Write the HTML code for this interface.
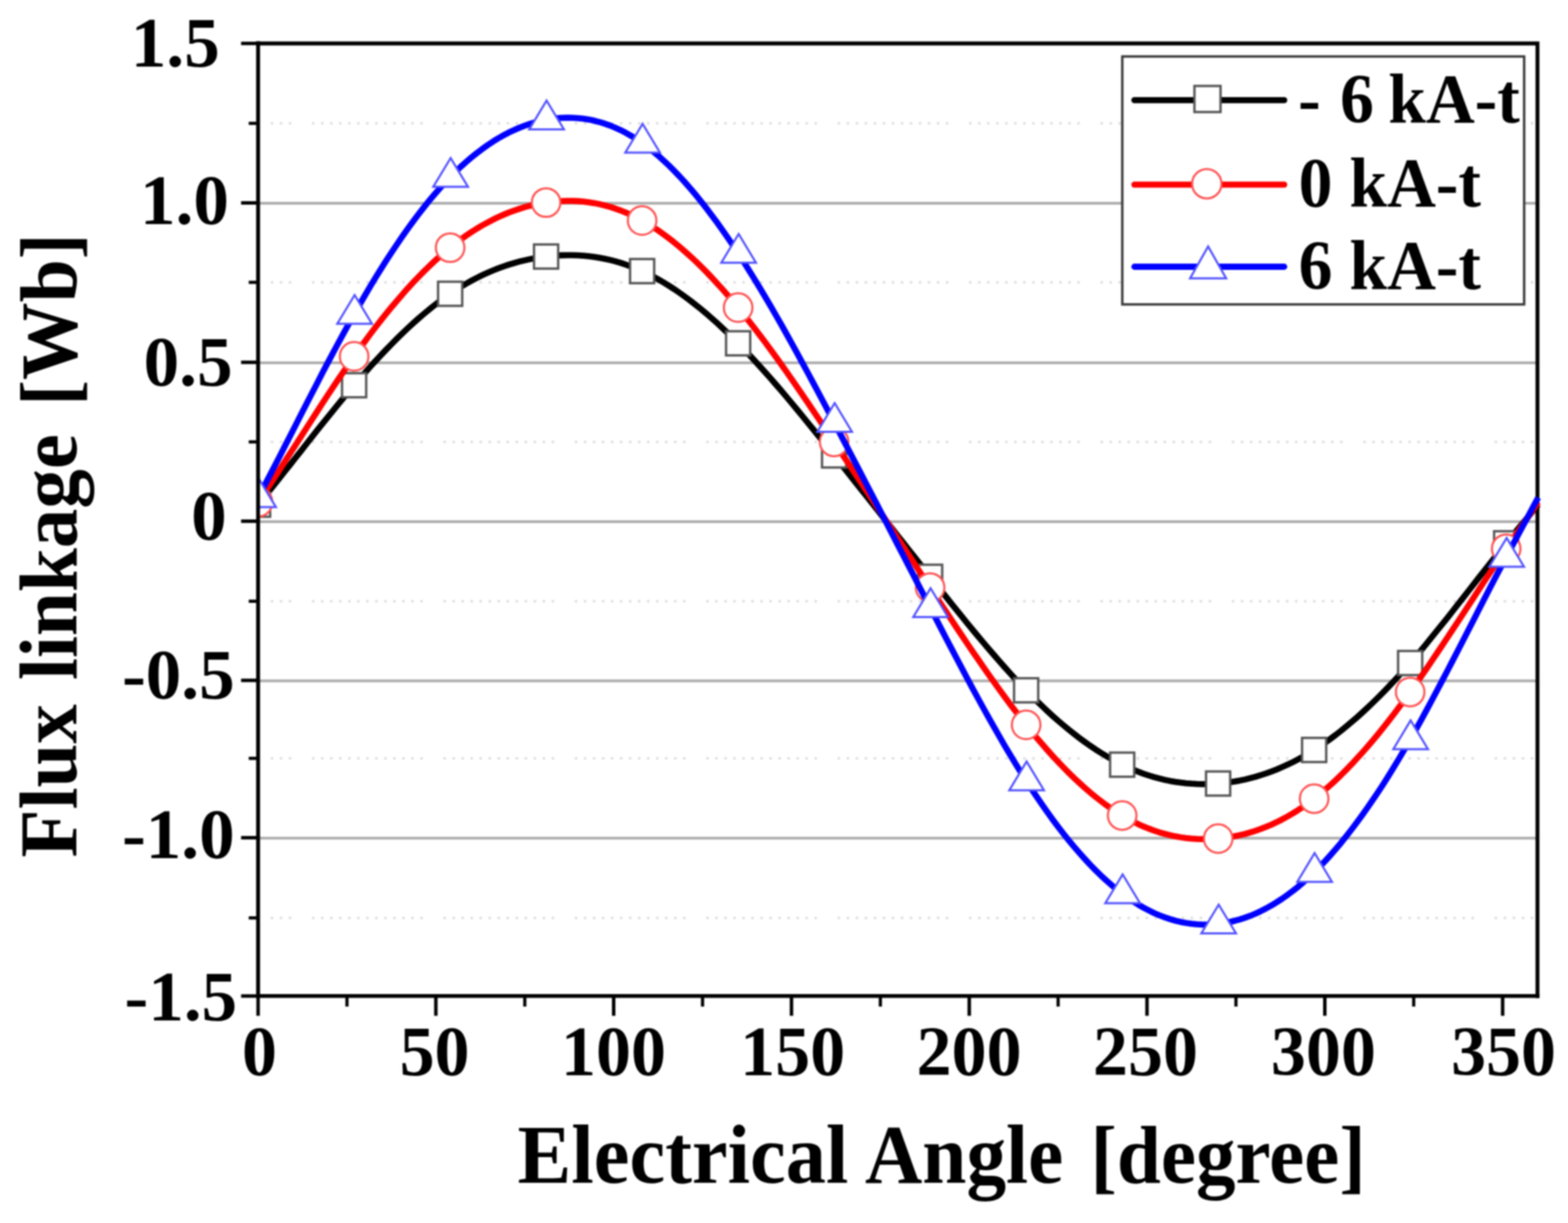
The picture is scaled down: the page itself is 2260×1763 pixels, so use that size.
<!DOCTYPE html>
<html lang="en"><head><meta charset="utf-8">
<style>
html,body{margin:0;padding:0;background:#fff;}
body{width:2260px;height:1763px;overflow:hidden;}
svg{display:block;filter:blur(1px);}
text{font-family:"Liberation Serif",serif;font-weight:bold;fill:#000;}
.tick{font-size:102.5px;}
.xtitle{font-size:120.5px;}
.ytitle{font-size:119.0px;}
.leg{font-size:102.4px;}
</style></head><body>
<svg width="2260" height="1763" viewBox="0 0 2260 1763">
<rect width="2260" height="1763" fill="#fff"/>
<defs><clipPath id="plot"><rect x="372.0" y="62.6" width="1849.0" height="1373.2"/></clipPath></defs>

<g stroke="#adadad" stroke-width="4" fill="none">
<line x1="372.0" y1="293.1" x2="2216.0" y2="293.1"/>
<line x1="372.0" y1="522.9" x2="2216.0" y2="522.9"/>
<line x1="372.0" y1="751.9" x2="2216.0" y2="751.9"/>
<line x1="372.0" y1="981.4" x2="2216.0" y2="981.4"/>
<line x1="372.0" y1="1208.2" x2="2216.0" y2="1208.2"/>
</g>
<g stroke="#dedede" stroke-width="3.6" fill="none" stroke-dasharray="3.6 9.4 3.6 9.4 3.6 9.4 3.6 9.4 3.6 9.4 3.6 9.4 3.6 9.4 3.6 9.4 3.6 9.4 3.6 9.4 3.6 9.4 3.6 9.4 3.6 29.8" stroke-dashoffset="-63.7">
<line x1="386.0" y1="177.8" x2="2216.0" y2="177.8"/>
<line x1="386.0" y1="407.0" x2="2216.0" y2="407.0"/>
<line x1="386.0" y1="637.0" x2="2216.0" y2="637.0"/>
<line x1="386.0" y1="866.7" x2="2216.0" y2="866.7"/>
<line x1="386.0" y1="1093.2" x2="2216.0" y2="1093.2"/>
<line x1="386.0" y1="1323.2" x2="2216.0" y2="1323.2"/>
</g>
<path d="M369.0,62.6 H2216.0 V1438.8" fill="none" stroke="#000" stroke-width="5.6"/>
<g clip-path="url(#plot)">
<path d="M372.0,727.5 L379.7,718.1 L387.4,708.6 L395.1,699.0 L402.8,689.3 L410.4,679.6 L418.1,669.9 L425.8,660.1 L433.5,650.4 L441.2,640.6 L448.9,630.8 L456.6,621.1 L464.2,611.5 L471.9,601.9 L479.6,592.4 L487.3,582.9 L495.0,573.6 L502.7,564.4 L510.4,555.3 L518.1,546.4 L525.8,537.6 L533.4,528.9 L541.1,520.5 L548.8,512.2 L556.5,504.1 L564.2,496.2 L571.9,488.4 L579.6,480.9 L587.2,473.6 L594.9,466.5 L602.6,459.6 L610.3,453.0 L618.0,446.6 L625.7,440.4 L633.4,434.5 L641.1,428.9 L648.8,423.5 L656.4,418.4 L664.1,413.6 L671.8,409.0 L679.5,404.7 L687.2,400.6 L694.9,396.8 L702.6,393.3 L710.2,390.0 L717.9,386.9 L725.6,384.1 L733.3,381.5 L741.0,379.2 L748.7,377.1 L756.4,375.2 L764.1,373.5 L771.8,372.1 L779.4,370.8 L787.1,369.8 L794.8,369.0 L802.5,368.4 L810.2,368.0 L817.9,367.8 L825.6,367.8 L833.2,368.1 L840.9,368.6 L848.6,369.4 L856.3,370.3 L864.0,371.6 L871.7,373.1 L879.4,374.8 L887.1,376.8 L894.8,379.0 L902.4,381.6 L910.1,384.4 L917.8,387.4 L925.5,390.8 L933.2,394.4 L940.9,398.4 L948.6,402.6 L956.2,407.0 L963.9,411.7 L971.6,416.7 L979.3,422.0 L987.0,427.5 L994.7,433.2 L1002.4,439.2 L1010.1,445.4 L1017.8,451.8 L1025.4,458.5 L1033.1,465.3 L1040.8,472.4 L1048.5,479.7 L1056.2,487.2 L1063.9,494.9 L1071.6,502.8 L1079.2,510.8 L1086.9,519.1 L1094.6,527.5 L1102.3,536.0 L1110.0,544.7 L1117.7,553.5 L1125.4,562.4 L1133.1,571.5 L1140.8,580.7 L1148.4,589.9 L1156.1,599.3 L1163.8,608.7 L1171.5,618.1 L1179.2,627.7 L1186.9,637.2 L1194.6,646.9 L1202.2,656.5 L1209.9,666.2 L1217.6,675.8 L1225.3,685.5 L1233.0,695.2 L1240.7,704.9 L1248.4,714.6 L1256.1,724.4 L1263.8,734.1 L1271.4,743.8 L1279.1,753.6 L1286.8,763.3 L1294.5,773.1 L1302.2,782.8 L1309.9,792.6 L1317.6,802.3 L1325.2,812.0 L1332.9,821.8 L1340.6,831.5 L1348.3,841.2 L1356.0,850.9 L1363.7,860.6 L1371.4,870.2 L1379.1,879.8 L1386.8,889.3 L1394.4,898.7 L1402.1,908.1 L1409.8,917.4 L1417.5,926.5 L1425.2,935.6 L1432.9,944.5 L1440.6,953.4 L1448.2,962.0 L1455.9,970.6 L1463.6,978.9 L1471.3,987.1 L1479.0,995.1 L1486.7,1002.9 L1494.4,1010.5 L1502.1,1017.9 L1509.8,1025.2 L1517.4,1032.2 L1525.1,1039.0 L1532.8,1045.5 L1540.5,1051.9 L1548.2,1058.0 L1555.9,1063.9 L1563.6,1069.6 L1571.2,1075.0 L1578.9,1080.2 L1586.6,1085.1 L1594.3,1089.8 L1602.0,1094.2 L1609.7,1098.4 L1617.4,1102.3 L1625.1,1105.9 L1632.8,1109.3 L1640.4,1112.4 L1648.1,1115.3 L1655.8,1117.9 L1663.5,1120.2 L1671.2,1122.3 L1678.9,1124.2 L1686.6,1125.8 L1694.2,1127.1 L1701.9,1128.2 L1709.6,1129.1 L1717.3,1129.7 L1725.0,1130.1 L1732.7,1130.3 L1740.4,1130.3 L1748.1,1130.0 L1755.8,1129.5 L1763.4,1128.8 L1771.1,1127.8 L1778.8,1126.7 L1786.5,1125.3 L1794.2,1123.7 L1801.9,1121.8 L1809.6,1119.8 L1817.2,1117.4 L1824.9,1114.9 L1832.6,1112.1 L1840.3,1109.1 L1848.0,1105.8 L1855.7,1102.3 L1863.4,1098.6 L1871.1,1094.6 L1878.8,1090.3 L1886.4,1085.8 L1894.1,1081.1 L1901.8,1076.1 L1909.5,1070.8 L1917.2,1065.3 L1924.9,1059.6 L1932.6,1053.6 L1940.2,1047.4 L1947.9,1040.9 L1955.6,1034.3 L1963.3,1027.4 L1971.0,1020.2 L1978.7,1012.9 L1986.4,1005.4 L1994.1,997.6 L2001.8,989.6 L2009.4,981.5 L2017.1,973.1 L2024.8,964.5 L2032.5,955.8 L2040.2,946.9 L2047.9,937.8 L2055.6,928.5 L2063.2,919.1 L2070.9,909.6 L2078.6,900.0 L2086.3,890.4 L2094.0,880.6 L2101.7,870.8 L2109.4,861.0 L2117.1,851.1 L2124.8,841.3 L2132.4,831.5 L2140.1,821.7 L2147.8,811.9 L2155.5,802.3 L2163.2,792.7 L2170.9,783.2 L2178.6,773.8 L2186.2,764.6 L2193.9,755.3 L2201.6,746.1 L2209.3,736.8 L2217.0,727.5" fill="none" stroke="#000" stroke-width="8.8" stroke-linejoin="round" stroke-linecap="butt"/>
<rect x="354.6" y="710.1" width="34.8" height="34.8" fill="#fff" stroke="#555" stroke-width="3.4"/>
<rect x="493.0" y="537.9" width="34.8" height="34.8" fill="#fff" stroke="#555" stroke-width="3.4"/>
<rect x="631.4" y="406.1" width="34.8" height="34.8" fill="#fff" stroke="#555" stroke-width="3.4"/>
<rect x="769.7" y="352.4" width="34.8" height="34.8" fill="#fff" stroke="#555" stroke-width="3.4"/>
<rect x="908.1" y="373.4" width="34.8" height="34.8" fill="#fff" stroke="#555" stroke-width="3.4"/>
<rect x="1046.5" y="477.5" width="34.8" height="34.8" fill="#fff" stroke="#555" stroke-width="3.4"/>
<rect x="1184.8" y="639.1" width="34.8" height="34.8" fill="#fff" stroke="#555" stroke-width="3.4"/>
<rect x="1323.2" y="814.1" width="34.8" height="34.8" fill="#fff" stroke="#555" stroke-width="3.4"/>
<rect x="1461.6" y="977.7" width="34.8" height="34.8" fill="#fff" stroke="#555" stroke-width="3.4"/>
<rect x="1600.0" y="1084.9" width="34.8" height="34.8" fill="#fff" stroke="#555" stroke-width="3.4"/>
<rect x="1738.3" y="1112.1" width="34.8" height="34.8" fill="#fff" stroke="#555" stroke-width="3.4"/>
<rect x="1876.7" y="1063.7" width="34.8" height="34.8" fill="#fff" stroke="#555" stroke-width="3.4"/>
<rect x="2015.1" y="938.4" width="34.8" height="34.8" fill="#fff" stroke="#555" stroke-width="3.4"/>
<rect x="2153.5" y="765.8" width="34.8" height="34.8" fill="#fff" stroke="#555" stroke-width="3.4"/>
<path d="M372.0,724.0 L379.7,712.6 L387.4,701.0 L395.1,689.3 L402.8,677.5 L410.4,665.6 L418.1,653.7 L425.8,641.8 L433.5,629.8 L441.2,617.8 L448.9,605.9 L456.6,594.0 L464.2,582.1 L471.9,570.4 L479.6,558.8 L487.3,547.2 L495.0,535.9 L502.7,524.7 L510.4,513.7 L518.1,502.9 L525.8,492.3 L533.4,482.0 L541.1,471.9 L548.8,462.0 L556.5,452.3 L564.2,442.9 L571.9,433.8 L579.6,424.9 L587.2,416.2 L594.9,407.8 L602.6,399.7 L610.3,391.9 L618.0,384.3 L625.7,377.0 L633.4,370.1 L641.1,363.4 L648.8,357.0 L656.4,350.9 L664.1,345.2 L671.8,339.7 L679.5,334.5 L687.2,329.6 L694.9,325.0 L702.6,320.8 L710.2,316.8 L717.9,313.0 L725.6,309.6 L733.3,306.4 L741.0,303.6 L748.7,301.0 L756.4,298.6 L764.1,296.6 L771.8,294.8 L779.4,293.3 L787.1,292.0 L794.8,291.0 L802.5,290.3 L810.2,289.8 L817.9,289.6 L825.6,289.7 L833.2,290.0 L840.9,290.7 L848.6,291.6 L856.3,292.8 L864.0,294.3 L871.7,296.2 L879.4,298.3 L887.1,300.8 L894.8,303.5 L902.4,306.6 L910.1,310.1 L917.8,313.8 L925.5,317.9 L933.2,322.3 L940.9,327.1 L948.6,332.2 L956.2,337.6 L963.9,343.3 L971.6,349.3 L979.3,355.7 L987.0,362.3 L994.7,369.2 L1002.4,376.4 L1010.1,383.9 L1017.8,391.6 L1025.4,399.6 L1033.1,407.9 L1040.8,416.4 L1048.5,425.2 L1056.2,434.2 L1063.9,443.4 L1071.6,452.9 L1079.2,462.5 L1086.9,472.4 L1094.6,482.5 L1102.3,492.7 L1110.0,503.1 L1117.7,513.7 L1125.4,524.4 L1133.1,535.3 L1140.8,546.3 L1148.4,557.3 L1156.1,568.5 L1163.8,579.8 L1171.5,591.2 L1179.2,602.6 L1186.9,614.0 L1194.6,625.6 L1202.2,637.1 L1209.9,648.7 L1217.6,660.2 L1225.3,671.8 L1233.0,683.5 L1240.7,695.1 L1248.4,706.7 L1256.1,718.4 L1263.8,730.1 L1271.4,741.7 L1279.1,753.4 L1286.8,765.1 L1294.5,776.8 L1302.2,788.5 L1309.9,800.2 L1317.6,811.9 L1325.2,823.6 L1332.9,835.3 L1340.6,847.0 L1348.3,858.7 L1356.0,870.4 L1363.7,882.0 L1371.4,893.6 L1379.1,905.2 L1386.8,916.7 L1394.4,928.1 L1402.1,939.4 L1409.8,950.6 L1417.5,961.7 L1425.2,972.7 L1432.9,983.5 L1440.6,994.2 L1448.2,1004.7 L1455.9,1015.1 L1463.6,1025.2 L1471.3,1035.2 L1479.0,1044.9 L1486.7,1054.4 L1494.4,1063.7 L1502.1,1072.7 L1509.8,1081.5 L1517.4,1090.0 L1525.1,1098.3 L1532.8,1106.3 L1540.5,1114.1 L1548.2,1121.6 L1555.9,1128.8 L1563.6,1135.7 L1571.2,1142.3 L1578.9,1148.6 L1586.6,1154.6 L1594.3,1160.4 L1602.0,1165.8 L1609.7,1170.8 L1617.4,1175.6 L1625.1,1180.0 L1632.8,1184.1 L1640.4,1187.9 L1648.1,1191.4 L1655.8,1194.5 L1663.5,1197.3 L1671.2,1199.9 L1678.9,1202.1 L1686.6,1204.0 L1694.2,1205.7 L1701.9,1207.0 L1709.6,1208.1 L1717.3,1208.9 L1725.0,1209.4 L1732.7,1209.7 L1740.4,1209.6 L1748.1,1209.3 L1755.8,1208.8 L1763.4,1208.0 L1771.1,1206.9 L1778.8,1205.6 L1786.5,1204.0 L1794.2,1202.2 L1801.9,1200.0 L1809.6,1197.6 L1817.2,1194.9 L1824.9,1191.9 L1832.6,1188.7 L1840.3,1185.1 L1848.0,1181.2 L1855.7,1177.0 L1863.4,1172.5 L1871.1,1167.7 L1878.8,1162.6 L1886.4,1157.1 L1894.1,1151.3 L1901.8,1145.2 L1909.5,1138.7 L1917.2,1132.0 L1924.9,1124.9 L1932.6,1117.5 L1940.2,1109.8 L1947.9,1101.9 L1955.6,1093.6 L1963.3,1085.1 L1971.0,1076.4 L1978.7,1067.3 L1986.4,1058.1 L1994.1,1048.5 L2001.8,1038.8 L2009.4,1028.8 L2017.1,1018.6 L2024.8,1008.2 L2032.5,997.6 L2040.2,986.8 L2047.9,975.8 L2055.6,964.7 L2063.2,953.4 L2070.9,942.0 L2078.6,930.5 L2086.3,918.9 L2094.0,907.3 L2101.7,895.6 L2109.4,883.8 L2117.1,872.1 L2124.8,860.3 L2132.4,848.6 L2140.1,836.9 L2147.8,825.3 L2155.5,813.8 L2163.2,802.3 L2170.9,791.0 L2178.6,779.8 L2186.2,768.7 L2193.9,757.6 L2201.6,746.5 L2209.3,735.3 L2217.0,724.0" fill="none" stroke="#f00" stroke-width="8.8" stroke-linejoin="round" stroke-linecap="butt"/>
<circle cx="372.0" cy="724.0" r="20.6" fill="#fff" stroke="#ff5050" stroke-width="3"/>
<circle cx="510.4" cy="513.7" r="20.6" fill="#fff" stroke="#ff5050" stroke-width="3"/>
<circle cx="648.8" cy="357.0" r="20.6" fill="#fff" stroke="#ff5050" stroke-width="3"/>
<circle cx="787.1" cy="292.0" r="20.6" fill="#fff" stroke="#ff5050" stroke-width="3"/>
<circle cx="925.5" cy="317.9" r="20.6" fill="#fff" stroke="#ff5050" stroke-width="3"/>
<circle cx="1063.9" cy="443.4" r="20.6" fill="#fff" stroke="#ff5050" stroke-width="3"/>
<circle cx="1202.2" cy="637.1" r="20.6" fill="#fff" stroke="#ff5050" stroke-width="3"/>
<circle cx="1340.6" cy="847.0" r="20.6" fill="#fff" stroke="#ff5050" stroke-width="3"/>
<circle cx="1479.0" cy="1044.9" r="20.6" fill="#fff" stroke="#ff5050" stroke-width="3"/>
<circle cx="1617.4" cy="1175.6" r="20.6" fill="#fff" stroke="#ff5050" stroke-width="3"/>
<circle cx="1755.8" cy="1208.8" r="20.6" fill="#fff" stroke="#ff5050" stroke-width="3"/>
<circle cx="1894.1" cy="1151.3" r="20.6" fill="#fff" stroke="#ff5050" stroke-width="3"/>
<circle cx="2032.5" cy="997.6" r="20.6" fill="#fff" stroke="#ff5050" stroke-width="3"/>
<circle cx="2170.9" cy="791.0" r="20.6" fill="#fff" stroke="#ff5050" stroke-width="3"/>
<path d="M372.0,717.3 L379.7,702.8 L387.4,688.1 L395.1,673.3 L402.8,658.4 L410.4,643.4 L418.1,628.4 L425.8,613.4 L433.5,598.3 L441.2,583.3 L448.9,568.3 L456.6,553.4 L464.2,538.6 L471.9,523.9 L479.6,509.4 L487.3,495.0 L495.0,480.8 L502.7,466.8 L510.4,453.0 L518.1,439.5 L525.8,426.2 L533.4,413.2 L541.1,400.5 L548.8,388.1 L556.5,375.9 L564.2,364.1 L571.9,352.6 L579.6,341.3 L587.2,330.4 L594.9,319.8 L602.6,309.6 L610.3,299.7 L618.0,290.1 L625.7,280.9 L633.4,272.1 L641.1,263.6 L648.8,255.5 L656.4,247.8 L664.1,240.4 L671.8,233.5 L679.5,226.9 L687.2,220.7 L694.9,214.9 L702.6,209.4 L710.2,204.3 L717.9,199.5 L725.6,195.2 L733.3,191.1 L741.0,187.5 L748.7,184.1 L756.4,181.2 L764.1,178.5 L771.8,176.3 L779.4,174.3 L787.1,172.7 L794.8,171.4 L802.5,170.5 L810.2,169.9 L817.9,169.7 L825.6,169.8 L833.2,170.3 L840.9,171.1 L848.6,172.3 L856.3,173.9 L864.0,175.9 L871.7,178.3 L879.4,181.0 L887.1,184.2 L894.8,187.7 L902.4,191.7 L910.1,196.1 L917.8,200.9 L925.5,206.1 L933.2,211.7 L940.9,217.8 L948.6,224.3 L956.2,231.2 L963.9,238.4 L971.6,246.1 L979.3,254.1 L987.0,262.5 L994.7,271.3 L1002.4,280.4 L1010.1,289.9 L1017.8,299.7 L1025.4,309.8 L1033.1,320.2 L1040.8,331.0 L1048.5,342.0 L1056.2,353.4 L1063.9,365.0 L1071.6,376.9 L1079.2,389.1 L1086.9,401.5 L1094.6,414.1 L1102.3,427.0 L1110.0,440.1 L1117.7,453.4 L1125.4,466.8 L1133.1,480.5 L1140.8,494.3 L1148.4,508.2 L1156.1,522.3 L1163.8,536.5 L1171.5,550.8 L1179.2,565.2 L1186.9,579.7 L1194.6,594.2 L1202.2,608.8 L1209.9,623.4 L1217.6,638.1 L1225.3,652.8 L1233.0,667.6 L1240.7,682.4 L1248.4,697.2 L1256.1,712.0 L1263.8,726.8 L1271.4,741.7 L1279.1,756.6 L1286.8,771.5 L1294.5,786.4 L1302.2,801.3 L1309.9,816.2 L1317.6,831.1 L1325.2,845.9 L1332.9,860.8 L1340.6,875.7 L1348.3,890.6 L1356.0,905.4 L1363.7,920.2 L1371.4,934.9 L1379.1,949.5 L1386.8,964.1 L1394.4,978.5 L1402.1,992.8 L1409.8,1007.0 L1417.5,1021.0 L1425.2,1034.8 L1432.9,1048.4 L1440.6,1061.9 L1448.2,1075.1 L1455.9,1088.1 L1463.6,1100.8 L1471.3,1113.2 L1479.0,1125.4 L1486.7,1137.3 L1494.4,1148.8 L1502.1,1160.1 L1509.8,1171.0 L1517.4,1181.6 L1525.1,1191.9 L1532.8,1201.9 L1540.5,1211.5 L1548.2,1220.8 L1555.9,1229.7 L1563.6,1238.3 L1571.2,1246.5 L1578.9,1254.4 L1586.6,1261.9 L1594.3,1269.0 L1602.0,1275.8 L1609.7,1282.2 L1617.4,1288.2 L1625.1,1293.8 L1632.8,1299.0 L1640.4,1303.9 L1648.1,1308.4 L1655.8,1312.4 L1663.5,1316.2 L1671.2,1319.5 L1678.9,1322.4 L1686.6,1325.0 L1694.2,1327.2 L1701.9,1329.1 L1709.6,1330.5 L1717.3,1331.7 L1725.0,1332.4 L1732.7,1332.8 L1740.4,1332.8 L1748.1,1332.5 L1755.8,1331.8 L1763.4,1330.8 L1771.1,1329.4 L1778.8,1327.6 L1786.5,1325.5 L1794.2,1323.0 L1801.9,1320.2 L1809.6,1317.0 L1817.2,1313.4 L1824.9,1309.5 L1832.6,1305.2 L1840.3,1300.5 L1848.0,1295.5 L1855.7,1290.1 L1863.4,1284.3 L1871.1,1278.2 L1878.8,1271.6 L1886.4,1264.7 L1894.1,1257.4 L1901.8,1249.7 L1909.5,1241.7 L1917.2,1233.2 L1924.9,1224.4 L1932.6,1215.3 L1940.2,1205.8 L1947.9,1195.9 L1955.6,1185.7 L1963.3,1175.2 L1971.0,1164.3 L1978.7,1153.1 L1986.4,1141.6 L1994.1,1129.8 L2001.8,1117.7 L2009.4,1105.2 L2017.1,1092.5 L2024.8,1079.5 L2032.5,1066.2 L2040.2,1052.6 L2047.9,1038.8 L2055.6,1024.7 L2063.2,1010.5 L2070.9,996.0 L2078.6,981.4 L2086.3,966.7 L2094.0,951.9 L2101.7,937.0 L2109.4,922.0 L2117.1,907.0 L2124.8,892.0 L2132.4,877.0 L2140.1,862.0 L2147.8,847.1 L2155.5,832.3 L2163.2,817.6 L2170.9,803.1 L2178.6,788.7 L2186.2,774.4 L2193.9,760.2 L2201.6,746.0 L2209.3,731.7 L2217.0,717.3" fill="none" stroke="#00f" stroke-width="8.8" stroke-linejoin="round" stroke-linecap="butt"/>
<polygon points="372.7,689.6 397.7,731.1 347.7,731.1" fill="#fff" stroke="#5050ff" stroke-width="3" stroke-linejoin="miter"/>
<polygon points="511.1,425.3 536.1,466.8 486.1,466.8" fill="#fff" stroke="#5050ff" stroke-width="3" stroke-linejoin="miter"/>
<polygon points="649.5,227.8 674.5,269.3 624.5,269.3" fill="#fff" stroke="#5050ff" stroke-width="3" stroke-linejoin="miter"/>
<polygon points="787.8,145.0 812.8,186.5 762.8,186.5" fill="#fff" stroke="#5050ff" stroke-width="3" stroke-linejoin="miter"/>
<polygon points="926.2,178.4 951.2,219.9 901.2,219.9" fill="#fff" stroke="#5050ff" stroke-width="3" stroke-linejoin="miter"/>
<polygon points="1064.6,337.3 1089.6,378.8 1039.6,378.8" fill="#fff" stroke="#5050ff" stroke-width="3" stroke-linejoin="miter"/>
<polygon points="1203.0,581.1 1228.0,622.6 1178.0,622.6" fill="#fff" stroke="#5050ff" stroke-width="3" stroke-linejoin="miter"/>
<polygon points="1341.3,848.0 1366.3,889.5 1316.3,889.5" fill="#fff" stroke="#5050ff" stroke-width="3" stroke-linejoin="miter"/>
<polygon points="1479.7,1097.7 1504.7,1139.2 1454.7,1139.2" fill="#fff" stroke="#5050ff" stroke-width="3" stroke-linejoin="miter"/>
<polygon points="1618.1,1260.5 1643.1,1302.0 1593.1,1302.0" fill="#fff" stroke="#5050ff" stroke-width="3" stroke-linejoin="miter"/>
<polygon points="1756.5,1304.1 1781.5,1345.6 1731.5,1345.6" fill="#fff" stroke="#5050ff" stroke-width="3" stroke-linejoin="miter"/>
<polygon points="1894.8,1229.7 1919.8,1271.2 1869.8,1271.2" fill="#fff" stroke="#5050ff" stroke-width="3" stroke-linejoin="miter"/>
<polygon points="2033.2,1038.5 2058.2,1080.0 2008.2,1080.0" fill="#fff" stroke="#5050ff" stroke-width="3" stroke-linejoin="miter"/>
<polygon points="2171.6,775.4 2196.6,816.9 2146.6,816.9" fill="#fff" stroke="#5050ff" stroke-width="3" stroke-linejoin="miter"/>
</g>
<rect x="1617.6" y="81.4" width="579.2" height="357.4" fill="#fff"/>
<g stroke="#000" stroke-width="5.6" fill="none" stroke-linecap="butt">
<path d="M372.0,59.6 V1435.8 H2219.0"/>
<line x1="347.5" y1="62.6" x2="372.0" y2="62.6" stroke-width="5"/>
<line x1="347.5" y1="292.5" x2="372.0" y2="292.5" stroke-width="5"/>
<line x1="347.5" y1="522.3" x2="372.0" y2="522.3" stroke-width="5"/>
<line x1="347.5" y1="751.3" x2="372.0" y2="751.3" stroke-width="5"/>
<line x1="347.5" y1="980.8" x2="372.0" y2="980.8" stroke-width="5"/>
<line x1="347.5" y1="1207.6" x2="372.0" y2="1207.6" stroke-width="5"/>
<line x1="347.5" y1="1435.8" x2="372.0" y2="1435.8" stroke-width="5"/>
<line x1="358.5" y1="177.8" x2="372.0" y2="177.8" stroke-width="4.6"/>
<line x1="358.5" y1="407.0" x2="372.0" y2="407.0" stroke-width="4.6"/>
<line x1="358.5" y1="637.0" x2="372.0" y2="637.0" stroke-width="4.6"/>
<line x1="358.5" y1="866.7" x2="372.0" y2="866.7" stroke-width="4.6"/>
<line x1="358.5" y1="1093.2" x2="372.0" y2="1093.2" stroke-width="4.6"/>
<line x1="358.5" y1="1323.2" x2="372.0" y2="1323.2" stroke-width="4.6"/>
<line x1="372.0" y1="1435.8" x2="372.0" y2="1464.3" stroke-width="5"/>
<line x1="628.2" y1="1435.8" x2="628.2" y2="1464.3" stroke-width="5"/>
<line x1="884.5" y1="1435.8" x2="884.5" y2="1464.3" stroke-width="5"/>
<line x1="1140.8" y1="1435.8" x2="1140.8" y2="1464.3" stroke-width="5"/>
<line x1="1397.0" y1="1435.8" x2="1397.0" y2="1464.3" stroke-width="5"/>
<line x1="1653.2" y1="1435.8" x2="1653.2" y2="1464.3" stroke-width="5"/>
<line x1="1909.5" y1="1435.8" x2="1909.5" y2="1464.3" stroke-width="5"/>
<line x1="2165.8" y1="1435.8" x2="2165.8" y2="1464.3" stroke-width="5"/>
<line x1="500.1" y1="1435.8" x2="500.1" y2="1451" stroke-width="4.6"/>
<line x1="756.4" y1="1435.8" x2="756.4" y2="1451" stroke-width="4.6"/>
<line x1="1012.6" y1="1435.8" x2="1012.6" y2="1451" stroke-width="4.6"/>
<line x1="1268.9" y1="1435.8" x2="1268.9" y2="1451" stroke-width="4.6"/>
<line x1="1525.1" y1="1435.8" x2="1525.1" y2="1451" stroke-width="4.6"/>
<line x1="1781.4" y1="1435.8" x2="1781.4" y2="1451" stroke-width="4.6"/>
<line x1="2037.6" y1="1435.8" x2="2037.6" y2="1451" stroke-width="4.6"/>
</g>
<text class="tick" transform="translate(188.60,96.40) scale(1.0000,1)">1.5</text>
<text class="tick" transform="translate(201.80,322.60) scale(1.0000,1)">1.0</text>
<text class="tick" transform="translate(207.10,556.10) scale(1.0000,1)">0.5</text>
<text class="tick" transform="translate(275.60,777.90) scale(1.0000,1)">0</text>
<text class="tick" transform="translate(175.90,1007.30) scale(1.0000,1)">-0.5</text>
<text class="tick" transform="translate(175.90,1237.20) scale(1.0000,1)">-1.0</text>
<text class="tick" transform="translate(179.60,1471.00) scale(1.0000,1)">-1.5</text>
<text class="tick" transform="translate(348.70,1550.40) scale(0.9850,1)">0</text>
<text class="tick" transform="translate(575.90,1550.40) scale(0.9850,1)">50</text>
<text class="tick" transform="translate(808.60,1550.40) scale(0.9850,1)">100</text>
<text class="tick" transform="translate(1066.70,1550.40) scale(0.9850,1)">150</text>
<text class="tick" transform="translate(1321.00,1550.40) scale(0.9850,1)">200</text>
<text class="tick" transform="translate(1575.20,1550.40) scale(0.9850,1)">250</text>
<text class="tick" transform="translate(1831.70,1550.40) scale(0.9850,1)">300</text>
<text class="tick" transform="translate(2091.40,1550.40) scale(0.9850,1)">350</text>
<text class="leg" transform="translate(1871.00,176.80) scale(0.9520,1)">-<tspan dx="3.8"> 6</tspan><tspan dx="-3.8"> kA-t</tspan></text>
<text class="leg" transform="translate(1871.80,297.80) scale(0.9520,1)">0 kA-t</text>
<text class="leg" transform="translate(1871.80,416.90) scale(0.9520,1)">6 kA-t</text>
<text class="xtitle" transform="translate(0,1705.0) scale(0.954,1)" xml:space="preserve"><tspan x="782.08" font-size="121.6">Electrical</tspan> <tspan x="1306.81" font-size="119.9">Angle</tspan> <tspan x="1647.59" font-size="119.5">[degree]</tspan></text>
<text class="ytitle" transform="translate(109.6,0) rotate(-90) scale(0.954,1)" xml:space="preserve"><tspan x="-1295.81" font-size="119.2">Flux</tspan> <tspan x="-1027.46" font-size="119.4">linkage</tspan> <tspan x="-613.21" font-size="117.2">[Wb]</tspan></text>
<rect x="1617.6" y="81.4" width="579.2" height="357.4" fill="none" stroke="#3a3a3a" stroke-width="3.5"/>
<line x1="1635" y1="144.3" x2="1851" y2="144.3" stroke="#000" stroke-width="8.8" stroke-linecap="round"/>
<rect x="1721.6" y="123.9" width="37.6" height="37.6" fill="#fff" stroke="#555" stroke-width="3.4"/>
<line x1="1635" y1="266.1" x2="1851" y2="266.1" stroke="#f00" stroke-width="8.8" stroke-linecap="round"/>
<circle cx="1739.4" cy="264.9" r="21.2" fill="#fff" stroke="#ff5050" stroke-width="3"/>
<line x1="1635" y1="384.5" x2="1851" y2="384.5" stroke="#00f" stroke-width="8.8" stroke-linecap="round"/>
<polygon points="1741.3,355.3 1767.3,401.3 1715.3,401.3" fill="#fff" stroke="#5050ff" stroke-width="3" stroke-linejoin="miter"/>
</svg></body></html>
